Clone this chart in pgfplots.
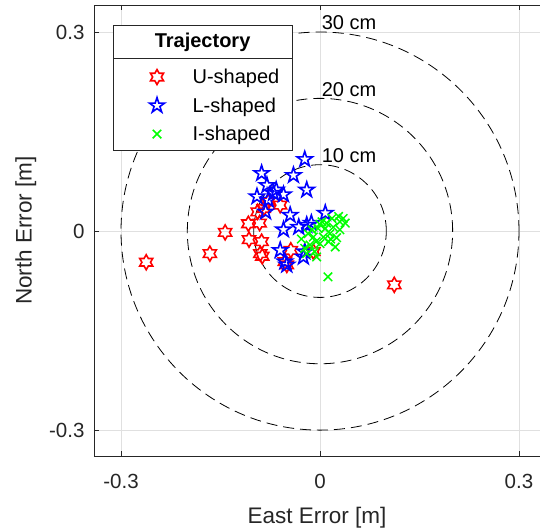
\documentclass[border=0pt]{standalone}
\usepackage{fontspec}
\setmainfont{Liberation Sans}
\usepackage{pgfplots}
\pgfplotsset{compat=1.18}

% MATLAB-like outline marks
\pgfdeclareplotmark{pentagram}{%
  \pgfpathmoveto{\pgfpointpolar{90}{\pgfplotmarksize}}%
  \pgfpathlineto{\pgfpointpolar{126}{0.382\pgfplotmarksize}}%
  \pgfpathlineto{\pgfpointpolar{162}{\pgfplotmarksize}}%
  \pgfpathlineto{\pgfpointpolar{198}{0.382\pgfplotmarksize}}%
  \pgfpathlineto{\pgfpointpolar{234}{\pgfplotmarksize}}%
  \pgfpathlineto{\pgfpointpolar{270}{0.382\pgfplotmarksize}}%
  \pgfpathlineto{\pgfpointpolar{306}{\pgfplotmarksize}}%
  \pgfpathlineto{\pgfpointpolar{342}{0.382\pgfplotmarksize}}%
  \pgfpathlineto{\pgfpointpolar{18}{\pgfplotmarksize}}%
  \pgfpathlineto{\pgfpointpolar{54}{0.382\pgfplotmarksize}}%
  \pgfpathclose
  \pgfusepathqstroke}
\pgfdeclareplotmark{hexagram}{%
  \pgfpathmoveto{\pgfpointpolar{90}{\pgfplotmarksize}}%
  \pgfpathlineto{\pgfpointpolar{120}{0.577\pgfplotmarksize}}%
  \pgfpathlineto{\pgfpointpolar{150}{\pgfplotmarksize}}%
  \pgfpathlineto{\pgfpointpolar{180}{0.577\pgfplotmarksize}}%
  \pgfpathlineto{\pgfpointpolar{210}{\pgfplotmarksize}}%
  \pgfpathlineto{\pgfpointpolar{240}{0.577\pgfplotmarksize}}%
  \pgfpathlineto{\pgfpointpolar{270}{\pgfplotmarksize}}%
  \pgfpathlineto{\pgfpointpolar{300}{0.577\pgfplotmarksize}}%
  \pgfpathlineto{\pgfpointpolar{330}{\pgfplotmarksize}}%
  \pgfpathlineto{\pgfpointpolar{0}{0.577\pgfplotmarksize}}%
  \pgfpathlineto{\pgfpointpolar{30}{\pgfplotmarksize}}%
  \pgfpathlineto{\pgfpointpolar{60}{0.577\pgfplotmarksize}}%
  \pgfpathclose
  \pgfusepathqstroke}

\begin{document}
\begin{tikzpicture}
\begin{axis}[
  scale only axis,
  width=446pt, height=451pt,
  xmin=-0.3407, xmax=0.3317,
  ymin=-0.339, ymax=0.3407,
  axis x line*=box, axis y line*=left,
  xtick={-0.3,0,0.3}, ytick={-0.3,0,0.3},
  xticklabels={-0.3,0,0.3}, yticklabels={-0.3,0,0.3},
  tick align=inside,
  major tick length=5pt,
  grid=major,
  major grid style={black!12, line width=0.7pt},
  axis line style={black!85, line width=0.8pt},
  tick style={black!85, line width=0.8pt},
  ticklabel style={font=\fontsize{20.5}{24}\selectfont, text=black!85},
  xticklabel style={yshift=-15pt},
  yticklabel style={xshift=-6pt},
  xlabel={East Error [m]}, ylabel={North Error [m]},
  label style={font=\fontsize{22.5}{26}\selectfont, text=black!85},
  xlabel style={yshift=-11pt},
  ylabel style={yshift=6pt},
  legend style={draw=none, fill=none, at={(axis cs:-0.262,0.2505)}, anchor=north west,
    font=\fontsize{20}{23}\selectfont, row sep=8.5pt, column sep=26pt, cells={anchor=west}},
  clip=false,
]
% range circles
\draw[black, dash pattern=on 11pt off 6pt, line width=0.8pt] (axis cs:0,0) circle[radius=0.1];
\draw[black, dash pattern=on 11pt off 6pt, line width=0.8pt] (axis cs:0,0) circle[radius=0.2];
\draw[black, dash pattern=on 11pt off 6pt, line width=0.8pt] (axis cs:0,0) circle[radius=0.3];
\node[anchor=south west, inner sep=1pt, font=\fontsize{20}{23}\selectfont] at (axis cs:0.001,0.101) {10 cm};
\node[anchor=south west, inner sep=1pt, font=\fontsize{20}{23}\selectfont] at (axis cs:0.001,0.201) {20 cm};
\node[anchor=south west, inner sep=1pt, font=\fontsize{20}{23}\selectfont] at (axis cs:0.001,0.301) {30 cm};

% U-shaped
\addplot[only marks, red, mark=hexagram, mark size=7.5pt, line width=1.6pt] coordinates {
  (-0.262,-0.047) (-0.166,-0.034) (-0.143,-0.002) (0.112,-0.081)
  (-0.108,0.011) (-0.091,0.012) (-0.107,-0.013) (-0.088,-0.016)
  (-0.094,0.029) (-0.078,0.044) (-0.060,0.039) (-0.090,-0.034)
  (-0.087,-0.038) (-0.044,-0.029) (-0.053,-0.046) (-0.050,-0.051)
  (-0.010,-0.031) (-0.085,0.034)
};
% L-shaped
\addplot[only marks, blue, mark=pentagram, mark size=8pt, line width=1.6pt] coordinates {
  (-0.088,0.087) (-0.080,0.069) (-0.066,0.062) (-0.055,0.055)
  (-0.095,0.052) (-0.078,0.047) (-0.082,0.029) (-0.045,0.024)
  (-0.055,0.002) (-0.040,0.084) (-0.023,0.108) (-0.020,0.062)
  (-0.060,-0.029) (-0.053,-0.046) (-0.032,0.006) (-0.020,0.009)
  (0.008,0.027) (-0.023,-0.031) (-0.013,0.012) (-0.025,-0.039)
  (-0.050,-0.051) (-0.070,0.057)
};
% I-shaped
\addplot[only marks, green, mark=x, mark size=6pt, line width=1.5pt] coordinates {
  (-0.023,-0.026) (-0.008,-0.031) (-0.015,-0.021) (-0.018,-0.004)
  (-0.003,0.004) (0.003,0.014) (0.010,0.012) (0.018,0.019)
  (0.030,0.014) (0.035,0.019) (0.023,-0.024) (0.005,-0.009)
  (0.015,-0.004) (-0.010,-0.009) (0.000,-0.019) (0.030,0.002)
  (-0.005,-0.039) (0.012,-0.069) (-0.028,-0.012) (-0.012,0.002)
  (0.008,0.004) (0.020,0.006) (0.025,-0.010) (0.038,0.012)
  (-0.020,-0.034) (0.013,-0.016) (0.000,0.010) (-0.006,-0.016)
  (0.028,0.022) (0.016,-0.012)
};
% legend box with title
\draw[fill=white, draw=black!85, line width=0.8pt] (axis cs:-0.312,0.1221) rectangle (axis cs:-0.0422,0.3106);
\draw[black!85, line width=0.8pt] (axis cs:-0.312,0.2608) -- (axis cs:-0.0422,0.2608);
\node[font=\fontsize{20}{23}\selectfont\bfseries] at (axis cs:-0.177,0.2845) {Trajectory};
\legend{U-shaped,L-shaped,I-shaped}
\end{axis}
\pgfresetboundingbox
\path ([xshift=-94pt,yshift=-75pt]current axis.south west) rectangle ([yshift=5pt]current axis.north east);
\end{tikzpicture}
\end{document}
